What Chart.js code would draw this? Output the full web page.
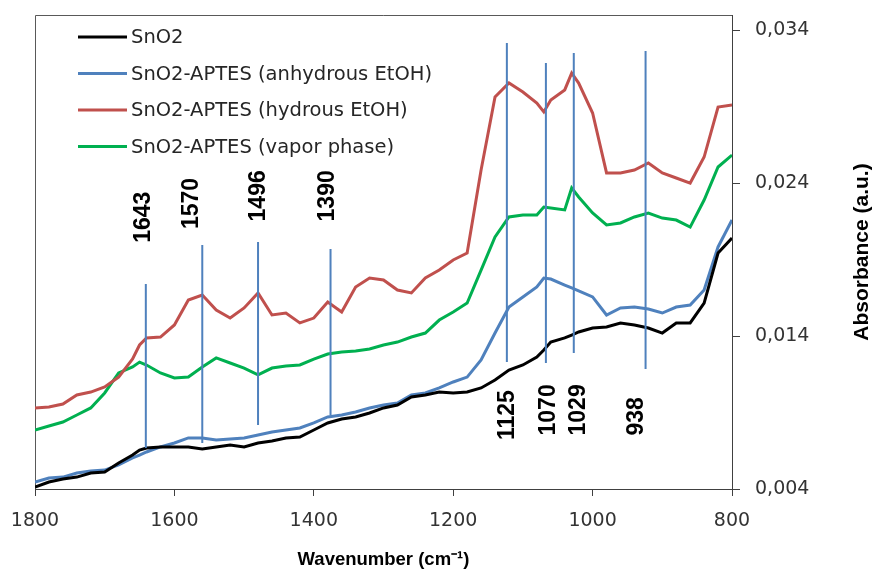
<!DOCTYPE html>
<html>
<head>
<meta charset="utf-8">
<script src="https://cdn.jsdelivr.net/npm/chart.js@4.4.1/dist/chart.umd.min.js"></script>
<style>
  body { margin: 0; background: #fff; }
  #ftir { display: block; }
</style>
</head>
<body>
<canvas id="ftir" width="873" height="574"></canvas>
<script>
// wavenumber grid (cm-1)
const wavenumbers = [1800, 1780, 1760, 1740, 1720, 1700, 1680, 1660, 1650, 1640, 1620, 1600, 1580, 1560, 1540, 1520, 1500,
    1480, 1460, 1440, 1420, 1400, 1380, 1360, 1340, 1320, 1300, 1280, 1260, 1240, 1220, 1200, 1180, 1160, 1140, 1120,
    1100, 1080, 1070, 1060, 1040, 1030, 1020, 1000, 980, 960, 940, 920, 900, 880, 860, 840, 820, 800];

const sno2 = [0.00413, 0.00446, 0.00465, 0.00478, 0.00505, 0.00511, 0.00570, 0.00622, 0.00655, 0.00668, 0.00675, 0.00675,
    0.00675, 0.00662, 0.00675, 0.00688, 0.00675, 0.00701, 0.00714, 0.00734, 0.00740, 0.00786, 0.00832, 0.00858, 0.00871,
    0.00897, 0.00930, 0.00949, 0.01002, 0.01015, 0.01034, 0.01028, 0.01034, 0.01061, 0.01113, 0.01178, 0.01211, 0.01263,
    0.01309, 0.01361, 0.01388, 0.01407, 0.01427, 0.01453, 0.01460, 0.01486, 0.01473, 0.01453, 0.01420, 0.01486, 0.01486,
    0.01616, 0.01943, 0.02042];

const anhydrous = [0.00446, 0.00472, 0.00478, 0.00505, 0.00518, 0.00524, 0.00557, 0.00603, 0.00622, 0.00642, 0.00675,
    0.00701, 0.00734, 0.00734, 0.00720, 0.00727, 0.00734, 0.00753, 0.00773, 0.00786, 0.00799, 0.00832, 0.00871, 0.00884,
    0.00904, 0.00930, 0.00949, 0.00962, 0.01015, 0.01028, 0.01061, 0.01100, 0.01132, 0.01244, 0.01420, 0.01590, 0.01656,
    0.01721, 0.01780, 0.01773, 0.01734, 0.01715, 0.01695, 0.01656, 0.01538, 0.01584, 0.01590, 0.01577, 0.01551, 0.01590,
    0.01603, 0.01701, 0.01983, 0.02159];

const hydrous = [0.00930, 0.00936, 0.00956, 0.01015, 0.01034, 0.01067, 0.01132, 0.01250, 0.01342, 0.01388, 0.01394,
    0.01473, 0.01636, 0.01669, 0.01571, 0.01518, 0.01584, 0.01682, 0.01538, 0.01551, 0.01486, 0.01518, 0.01623, 0.01558,
    0.01721, 0.01780, 0.01767, 0.01701, 0.01682, 0.01780, 0.01832, 0.01898, 0.01943, 0.02486, 0.02964, 0.03055, 0.02996,
    0.02924, 0.02866, 0.02944, 0.03010, 0.03120, 0.03055, 0.02859, 0.02467, 0.02467, 0.02486, 0.02532, 0.02467, 0.02434,
    0.02401, 0.02571, 0.02898, 0.02911];

const vapor = [0.00786, 0.00812, 0.00838, 0.00884, 0.00930, 0.01028, 0.01159, 0.01198, 0.01230, 0.01211, 0.01159, 0.01126,
    0.01133, 0.01198, 0.01257, 0.01224, 0.01191, 0.01146, 0.01191, 0.01204, 0.01211, 0.01250, 0.01283, 0.01296, 0.01303,
    0.01316, 0.01342, 0.01361, 0.01394, 0.01420, 0.01505, 0.01558, 0.01616, 0.01832, 0.02048, 0.02179, 0.02192, 0.02192,
    0.02244, 0.02238, 0.02225, 0.02369, 0.02310, 0.02205, 0.02127, 0.02140, 0.02179, 0.02205, 0.02172, 0.02159, 0.02113,
    0.02290, 0.02506, 0.02584];

const seriesNames = ['SnO2', 'SnO2-APTES (anhydrous EtOH)', 'SnO2-APTES (hydrous EtOH)', 'SnO2-APTES (vapor phase)'];
const seriesColors = ['#000000', '#4F81BD', '#C0504D', '#00B050'];

const xTicks = [1800, 1600, 1400, 1200, 1000, 800];
const yTicks = [0.004, 0.014, 0.024, 0.034];

// marked bands: label, marker line position and extent, label anchor (all in data units)
const peakLabels = ['1643', '1570', '1496', '1390', '1125', '1070', '1029', '938'];
const peakLinePos = [1641, 1560, 1480, 1376, 1123, 1067, 1027, 924];
const peakLineTop = [0.01741, 0.01996, 0.02015, 0.01970, 0.03317, 0.03186, 0.03251, 0.03265];
const peakLineBottom = [0.00668, 0.00701, 0.00819, 0.00884, 0.01231, 0.01224, 0.01289, 0.01185];
const peakLabelPos = [1645, 1576, 1480, 1381, 1124, 1065, 1021, 938];
const peakLabelBase = [0.0201, 0.0210, 0.0215, 0.0215, 0.0072, 0.0075, 0.0075, 0.0075];

const seriesData = [sno2, anhydrous, hydrous, vapor];

const datasets = seriesData.map((vals, i) => ({
    label: seriesNames[i],
    data: wavenumbers.map((w, j) => ({ x: w, y: vals[j] })),
    borderColor: seriesColors[i],
    borderWidth: 3,
    pointRadius: 0,
    tension: 0,
    order: 1
}));

peakLinePos.forEach((w, i) => {
    datasets.push({
        label: 'peak ' + peakLabels[i],
        data: [{ x: w, y: peakLineTop[i] }, { x: w, y: peakLineBottom[i] }],
        borderColor: '#4F81BD',
        borderWidth: 2,
        pointRadius: 0,
        order: 0
    });
});

const extras = {
    id: 'extras',
    beforeDatasetsDraw(chart) {
        const { ctx, chartArea: a } = chart;
        ctx.save();
        ctx.strokeStyle = '#595959';
        ctx.lineWidth = 1;
        ctx.beginPath();
        ctx.moveTo(a.left + 0.5, a.bottom);
        ctx.lineTo(a.left + 0.5, a.top + 0.5);
        ctx.lineTo(a.right, a.top + 0.5);
        ctx.stroke();
        ctx.restore();
    },
    afterDraw(chart) {
        const { ctx, chartArea: a, scales } = chart;
        ctx.save();

        // legend inside the plot, top left
        ctx.font = '19.5px "DejaVu Sans"';
        ctx.textBaseline = 'middle';
        ctx.textAlign = 'left';
        for (let i = 0; i < seriesNames.length; i++) {
            const y = a.top + 22 + i * 36.5;
            ctx.strokeStyle = seriesColors[i];
            ctx.lineWidth = 3;
            ctx.beginPath();
            ctx.moveTo(a.left + 43, y);
            ctx.lineTo(a.left + 92, y);
            ctx.stroke();
            ctx.fillStyle = '#262626';
            ctx.fillText(seriesNames[i], a.left + 96, y + 1);
        }

        // rotated band labels
        ctx.font = 'bold 23px "Liberation Sans"';
        ctx.fillStyle = '#000';
        peakLabels.forEach((t, i) => {
            const x = scales.x.getPixelForValue(peakLabelPos[i]);
            const y = scales.y.getPixelForValue(peakLabelBase[i]);
            ctx.save();
            ctx.translate(x, y);
            ctx.rotate(-Math.PI / 2);
            ctx.textAlign = 'left';
            ctx.textBaseline = 'middle';
            ctx.fillText(t, 0, 1);
            ctx.restore();
        });

        // y axis title, reads bottom to top
        ctx.font = 'bold 21px "Liberation Sans"';
        ctx.translate(chart.width - 11, (a.top + a.bottom) / 2);
        ctx.rotate(-Math.PI / 2);
        ctx.textAlign = 'center';
        ctx.textBaseline = 'middle';
        ctx.fillText('Absorbance (a.u.)', 0, 0);
        ctx.restore();
    }
};

new Chart(document.getElementById('ftir'), {
    type: 'line',
    data: { datasets: datasets },
    options: {
        responsive: false,
        animation: false,
        layout: { padding: { left: 35, top: 15, right: 0, bottom: 0 } },
        plugins: {
            legend: { display: false },
            tooltip: { enabled: false }
        },
        scales: {
            x: {
                type: 'linear',
                reverse: true,
                min: 800,
                max: 1800,
                afterBuildTicks: s => { s.ticks = xTicks.map(v => ({ value: v })); },
                afterFit: s => { s.height = 85; s.paddingLeft = 0; s.paddingRight = 0; },
                border: { display: true, color: '#404040', width: 1 },
                grid: { drawOnChartArea: false, drawTicks: true, tickLength: 7, color: '#404040' },
                ticks: {
                    padding: 14,
                    color: '#333',
                    font: { family: 'DejaVu Sans', size: 19 },
                    callback: v => String(v)
                },
                title: {
                    display: true,
                    text: 'Wavenumber (cm⁻¹)',
                    color: '#000',
                    font: { family: 'Liberation Sans', size: 18.5, weight: 'bold' },
                    padding: { top: 0, bottom: 3 }
                }
            },
            y: {
                position: 'right',
                min: 0.004,
                max: 0.035,
                afterBuildTicks: s => { s.ticks = yTicks.map(v => ({ value: v })); },
                afterFit: s => { s.width = 141; s.paddingTop = 0; s.paddingBottom = 0; },
                border: { display: true, color: '#404040', width: 1 },
                grid: { drawOnChartArea: false, drawTicks: true, tickLength: 8, color: '#404040' },
                ticks: {
                    padding: 15,
                    color: '#333',
                    font: { family: 'DejaVu Sans', size: 19 },
                    callback: v => v.toFixed(3).replace('.', ',')
                }
            }
        }
    },
    plugins: [extras]
});
</script>
</body>
</html>
